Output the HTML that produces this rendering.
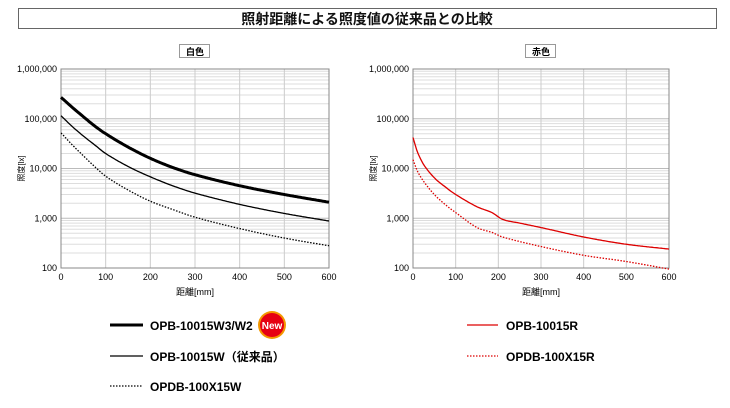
<!DOCTYPE html><html><head><meta charset="utf-8"><style>
body{margin:0;width:730px;height:403px;background:#fff;overflow:hidden;font-family:"Liberation Sans","Noto Sans CJK JP",sans-serif}
</style></head><body>
<svg id="s" width="730" height="403" xmlns="http://www.w3.org/2000/svg" font-family="Liberation Sans, Noto Sans CJK JP, sans-serif">
<rect x="18.5" y="8.5" width="698" height="20" fill="#fff" stroke="#666"/>
<text x="367" y="24" font-size="14" font-weight="bold" text-anchor="middle" fill="#111">照射距離による照度値の従来品との比較</text>
<g id="g"></g>
<line x1="110" y1="325" x2="143" y2="325" stroke="#000" stroke-width="3"/>
<text x="150" y="330" font-size="12" font-weight="bold">OPB-10015W3/W2</text>
<circle cx="272" cy="325" r="14" fill="#f39800"/><circle cx="272" cy="325" r="12" fill="#e60012"/>
<text x="272" y="329" font-size="10" font-weight="bold" fill="#fff" text-anchor="middle">New</text>
<line x1="110" y1="356" x2="143" y2="356" stroke="#000" stroke-width="1.3"/>
<text x="150" y="361" font-size="12" font-weight="bold">OPB-10015W（従来品）</text>
<line x1="110" y1="386" x2="143" y2="386" stroke="#000" stroke-width="1.3" stroke-dasharray="1.5,1.5"/>
<text x="150" y="391" font-size="12" font-weight="bold">OPDB-100X15W</text>
<line x1="467" y1="325" x2="498" y2="325" stroke="#d00" stroke-width="1.3"/>
<text x="506" y="330" font-size="12" font-weight="bold">OPB-10015R</text>
<line x1="467" y1="356" x2="498" y2="356" stroke="#d00" stroke-width="1.3" stroke-dasharray="1.5,1.5"/>
<text x="506" y="361" font-size="12" font-weight="bold">OPDB-100X15R</text>
</svg>
<script>
const NS="http://www.w3.org/2000/svg",g=document.getElementById('g');
function el(t,a,txt){const e=document.createElementNS(NS,t);for(const k in a)e.setAttribute(k,a[k]);if(txt)e.textContent=txt;g.appendChild(e);return e;}
const T=69,B=268,dec=(B-T)/4;
function yv(v){return B-(Math.log10(v)-2)*dec;}
function interp(d,x){
 const n=d.length;let i=0;while(i<n-2&&x>d[i+1][0])i++;
 const L=k=>Math.log10(d[Math.max(0,Math.min(n-1,k))][1]);
 const X=k=>d[Math.max(0,Math.min(n-1,k))][0];
 const x0=X(i),x1=X(i+1),t=(x-x0)/(x1-x0);
 const p0=L(i),p1=L(i+1);
 const m0=i>0?(L(i+1)-L(i-1))/(X(i+1)-X(i-1))*(x1-x0):(p1-p0);
 const m1=i+2<n?(L(i+2)-L(i))/(X(i+2)-X(i))*(x1-x0):(p1-p0);
 const t2=t*t,t3=t2*t;
 const v=(2*t3-3*t2+1)*p0+(t3-2*t2+t)*m0+(-2*t3+3*t2)*p1+(t3-t2)*m1;
 return Math.pow(10,v);
}
function chart(L,R,title,series){
 const W=R-L,cx=(L+R)/2;
 for(let d=2;d<6;d++)for(let m=2;m<10;m++){const y=yv(m*Math.pow(10,d));el('line',{x1:L,x2:R,y1:y,y2:y,stroke:'#ddd','stroke-width':1});}
 for(let d=3;d<6;d++){const y=yv(Math.pow(10,d));el('line',{x1:L,x2:R,y1:y,y2:y,stroke:'#bbb','stroke-width':1});}
 for(let i=1;i<6;i++){const x=L+W*i/6;el('line',{x1:x,x2:x,y1:T,y2:B,stroke:'#ccc','stroke-width':1});}
 el('rect',{x:L,y:T,width:W,height:B-T,fill:'none',stroke:'#888'});
 const lab=['100','1,000','10,000','100,000','1,000,000'];
 lab.forEach((s,i)=>el('text',{x:L-4,y:B-i*dec+3,'font-size':9,'text-anchor':'end'},s));
 for(let i=0;i<=6;i++)el('text',{x:L+W*i/6,y:B+12,'font-size':9,'text-anchor':'middle'},String(i*100));
 el('text',{x:cx,y:B+27,'font-size':9,'text-anchor':'middle'},'距離[mm]');
 el('text',{x:0,y:0,'font-size':8,'text-anchor':'middle',transform:`translate(${L-37},${(T+B)/2}) rotate(-90)`},'照度[lx]');
 el('rect',{x:cx-15.5,y:44.5,width:30,height:13,fill:'#fff',stroke:'#999'});
 el('text',{x:cx,y:55,'font-size':9,'font-weight':'bold','text-anchor':'middle'},title);
 series.forEach(s=>{
  const pts=[];for(let x=0;x<=600;x+=3){pts.push([L+W*x/600,yv(interp(s.d,x))]);}
  const a={d:'M'+pts.map(p=>p[0].toFixed(1)+','+p[1].toFixed(1)).join('L'),fill:'none',stroke:s.c,'stroke-width':s.w,'stroke-linejoin':'round'};
  if(s.dash)a['stroke-dasharray']='1.5,1.5';el('path',a);
 });
}
chart(61,329,'白色',[
 {c:'#000',w:3,d:[[0,270000],[25,170000],[50,110000],[75,72000],[100,50000],[150,27000],[200,16000],[250,10500],[300,7500],[400,4500],[500,3000],[600,2100]]},
 {c:'#000',w:1.3,d:[[0,115000],[25,70000],[50,45000],[75,30000],[100,20000],[150,11000],[200,6800],[250,4500],[300,3200],[400,1900],[500,1250],[600,880]]},
 {c:'#000',w:1.3,dash:1,d:[[0,52000],[25,30000],[50,18000],[75,11000],[100,7000],[150,3700],[200,2200],[250,1500],[300,1050],[400,620],[500,400],[600,280]]}
]);
chart(413,669,'赤色',[
 {c:'#d00',w:1.3,d:[[0,42000],[10,22000],[25,12000],[50,6500],[75,4300],[100,3000],[150,1700],[185,1300],[210,950],[250,800],[300,650],[400,420],[500,300],[600,240]]},
 {c:'#d00',w:1.3,dash:1,d:[[0,15000],[10,9000],[25,5500],[50,3000],[75,1900],[100,1300],[150,650],[185,520],[210,420],[300,270],[400,180],[500,135],[600,95]]}
]);
</script>
</body></html>
